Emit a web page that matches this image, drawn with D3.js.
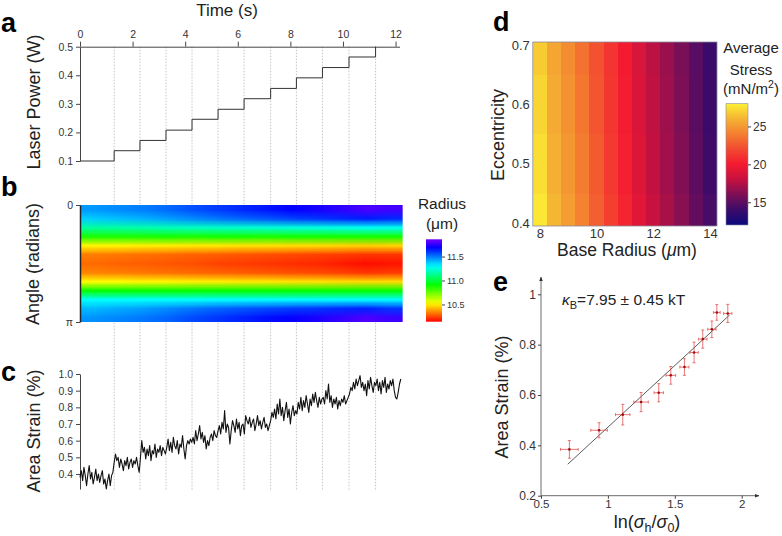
<!DOCTYPE html>
<html>
<head>
<meta charset="utf-8">
<script src="https://cdnjs.cloudflare.com/ajax/libs/d3/7.8.5/d3.min.js"></script>
<style>
body{margin:0;background:#fff}
text{font-family:Helvetica,Arial,"Liberation Sans",sans-serif;fill:#222}
.tick text{fill:#333}
</style>
</head>
<body>
<div id="chart"></div>
<script>
// ---- a: laser power steps
let stepTimes = [0,1.30,2.28,3.27,4.26,5.25,6.24,7.25,8.23,9.22,10.23,11.24];
let laserPower = [0.1,0.136,0.172,0.208,0.246,0.281,0.318,0.354,0.391,0.427,0.464,0.5];
let timeTicks = [0,2,4,6,8,10,12];
let powerTicks = [0.1,0.2,0.3,0.4,0.5];

// ---- b: radius (um) vs angle (rows, 0..pi) and time (cols, 0..12.27 s)
let heatTimeEnd = 12.27;
let radiusGrid = [
  [11.45,11.47,11.49,11.52,11.56,11.59,11.62,11.65,11.68,11.71,11.75,11.79,11.78],
  [11.37,11.39,11.41,11.44,11.47,11.50,11.53,11.55,11.58,11.60,11.62,11.64,11.62],
  [11.15,11.16,11.17,11.19,11.20,11.21,11.22,11.23,11.24,11.25,11.26,11.28,11.27],
  [10.87,10.87,10.87,10.88,10.87,10.88,10.88,10.87,10.88,10.88,10.88,10.88,10.88],
  [10.51,10.51,10.50,10.50,10.49,10.49,10.48,10.48,10.47,10.47,10.46,10.45,10.46],
  [10.33,10.32,10.31,10.30,10.29,10.28,10.27,10.26,10.25,10.24,10.23,10.22,10.22],
  [10.30,10.29,10.28,10.27,10.26,10.24,10.23,10.22,10.21,10.20,10.18,10.16,10.17],
  [10.34,10.33,10.32,10.31,10.30,10.29,10.28,10.27,10.26,10.25,10.24,10.22,10.23],
  [10.52,10.52,10.51,10.51,10.50,10.50,10.49,10.49,10.48,10.48,10.47,10.47,10.47],
  [10.90,10.90,10.90,10.90,10.90,10.90,10.90,10.90,10.90,10.90,10.90,10.90,10.90],
  [11.29,11.29,11.29,11.29,11.29,11.30,11.30,11.30,11.30,11.30,11.30,11.30,11.30],
  [11.40,11.42,11.44,11.47,11.50,11.53,11.55,11.57,11.59,11.60,11.62,11.63,11.60],
  [11.46,11.48,11.50,11.53,11.57,11.60,11.63,11.66,11.69,11.72,11.76,11.80,11.77]
];
let radiusDomain = [10.14, 11.86];
let radiusTicks = [10.5, 11.0, 11.5];

// ---- c: area strain (%) sampled every 0.05 s
let strainDt = 0.05;
let areaStrain = [
  0.38,0.42,0.36,0.44,0.39,0.33,0.40,0.45,0.37,0.41,0.34,0.38,0.43,0.36,0.40,0.35,0.39,0.42,0.34,0.37,0.31,0.36,0.40,0.33,0.39,0.41,
  0.47,0.52,0.48,0.50,0.44,0.49,0.46,0.42,0.48,0.45,0.50,0.43,0.47,0.49,0.44,0.48,0.46,0.50,0.45,0.41,
  0.50,0.60,0.53,0.56,0.49,0.55,0.51,0.57,0.48,0.54,0.52,0.58,0.50,0.55,0.53,0.57,0.51,0.56,0.54,0.52,
  0.56,0.61,0.54,0.59,0.53,0.62,0.57,0.55,0.60,0.52,0.58,0.56,0.63,0.55,0.49,0.57,0.60,0.58,0.61,0.59,
  0.62,0.58,0.66,0.60,0.64,0.69,0.61,0.65,0.59,0.63,0.55,0.60,0.57,0.62,0.64,0.60,0.66,0.63,0.62,
  0.66,0.69,0.64,0.71,0.67,0.78,0.65,0.70,0.68,0.58,0.66,0.72,0.69,0.65,0.73,0.67,0.71,0.63,0.69,0.70,
  0.64,0.75,0.72,0.70,0.74,0.68,0.71,0.73,0.66,0.70,0.75,0.69,0.72,0.67,0.71,0.74,0.68,0.70,0.66,0.69,
  0.72,0.77,0.74,0.79,0.73,0.82,0.76,0.85,0.75,0.80,0.72,0.78,0.83,0.74,0.79,0.70,0.77,0.81,0.75,0.78,
  0.76,0.83,0.79,0.86,0.78,0.84,0.80,0.87,0.82,0.77,0.85,0.81,0.88,0.83,0.89,0.84,0.80,0.86,0.82,0.85,
  0.86,0.82,0.90,0.85,0.94,0.83,0.87,0.80,0.85,0.82,0.86,0.79,0.84,0.81,0.85,0.83,0.87,0.82,0.84,0.86,
  0.88,0.92,0.90,0.95,0.91,0.97,0.93,0.96,0.99,0.92,0.95,0.90,0.94,0.87,0.96,0.91,0.98,0.93,0.89,0.95,
  0.93,0.97,0.90,0.95,0.88,0.96,0.92,0.98,0.89,0.94,0.91,0.96,0.93,0.97,0.90,0.86,0.85,0.89,0.94,0.97
];
let strainTicks = [0.4,0.5,0.6,0.7,0.8,0.9,1.0];

// ---- d: average stress (mN/m^2) vs base radius and eccentricity
let baseRadius = [8,8.5,9,9.5,10,10.5,11,11.5,12,12.5,13,13.5,14];
let eccentricity = [0.4,0.5,0.6,0.7];
let avgStress = [
  [27.7,26.1,25.1,24.1,22.8,21.5,20.4,19.2,18.1,17.2,16.3,15.2,14.3],
  [27.4,25.9,24.9,23.9,22.6,21.3,20.2,19.0,17.9,17.0,16.1,15.0,14.1],
  [27.1,25.7,24.7,23.7,22.4,21.2,20.1,18.9,17.8,16.9,16.0,14.9,14.0],
  [26.8,25.5,24.5,23.5,22.3,21.1,20.0,18.8,17.7,16.8,15.9,14.8,13.9]
];
let stressStops = [12,14,16,18,20,22,24,26,28];
let stressColors = ["#0a0a7c","#3c0b6a","#7c0f55","#c61140","#f41a30","#f24a30","#f47f30","#f5b333","#fcf034"];
let radiusAxisTicks = [8,10,12,14];
let eccTicks = [0.4,0.5,0.6,0.7];
let stressTicks = [15,20,25];

// ---- e: area strain vs ln(sigma_h/sigma_0)
let lnRatio  = [0.712,0.934,1.111,1.248,1.380,1.470,1.572,1.644,1.709,1.777,1.814,1.896];
let strainE  = [0.384,0.460,0.522,0.572,0.609,0.678,0.711,0.769,0.822,0.861,0.928,0.924];
let lnErr    = [0.066,0.062,0.054,0.054,0.035,0.036,0.034,0.031,0.032,0.031,0.025,0.031];
let strainErr= [0.035,0.030,0.041,0.038,0.036,0.035,0.033,0.041,0.036,0.033,0.031,0.036];
let fitX = [0.70,1.91];
let fitY = [0.325,0.918];
let lnTicks = [0.5,1,1.5,2];
let strainETicks = [0.2,0.4,0.6,0.8,1];

let svg = d3.select("#chart").append("svg")
    .attr("width", 782)
    .attr("height", 536);
svg.append("rect").attr("width",782).attr("height",536).attr("fill","#fff");

function panelLetter(s,x,y){
  svg.append("text").attr("x",x).attr("y",y).attr("font-size",27)
    .attr("font-weight","bold").style("fill","#000").text(s);
}
function yTitle(s,x,y,size){
  return svg.append("text").attr("transform","translate("+x+","+y+") rotate(-90)")
    .attr("text-anchor","middle").attr("font-size",size||18).text(s);
}
function styleAxis(g,fs){
  g.selectAll("path,line").attr("stroke","#444");
  g.selectAll("text").attr("font-size",fs);
}

// shared time scale (a, b, c)
let xT = d3.scaleLinear().domain([0,12.15]).range([80,399.5]);

// ===== a
let yP = d3.scaleLinear().domain([0.1,0.5]).range([161,46.7]);

// dotted step markers through a, b, c
svg.append("g").selectAll("line").data(stepTimes.slice(1)).enter().append("line")
  .attr("x1",d=>xT(d)).attr("x2",d=>xT(d))
  .attr("y1",yP(0.5)).attr("y2",491)
  .attr("stroke","#b8b8b8").attr("stroke-width",0.8).attr("stroke-dasharray","1.5,1.5");

let gTop = svg.append("g").attr("transform","translate(0,"+yP(0.5)+")")
  .call(d3.axisTop(xT).tickValues(timeTicks).tickSize(5).tickSizeOuter(0).tickPadding(4));
styleAxis(gTop,10.5);
let gP = svg.append("g").attr("transform","translate(80,0)")
  .call(d3.axisLeft(yP).tickValues(powerTicks).tickSize(4).tickSizeOuter(0).tickFormat(d3.format(".1f")));
styleAxis(gP,10.5);

let powerPts = stepTimes.map((t,i)=>[t,laserPower[i]]);
svg.append("path").datum(powerPts)
  .attr("d", d3.line().x(d=>xT(d[0])).y(d=>yP(d[1])).curve(d3.curveStepAfter))
  .attr("fill","none").attr("stroke","#333").attr("stroke-width",1);

svg.append("text").attr("x",227).attr("y",16).attr("text-anchor","middle")
  .attr("font-size",17).text("Time (s)");
yTitle("Laser Power (W)",40,102);
panelLetter("a",1,32);

// ===== b
let yA = d3.scaleLinear().domain([0,Math.PI]).range([205,322]);
let radiusColor = d3.scaleSequential(t=>d3.hsl(t*268,1,0.5)+"").domain(radiusDomain);

let nRow = radiusGrid.length, nCol = radiusGrid[0].length;
let cvs = document.createElement("canvas");
cvs.width = nCol; cvs.height = nRow;
let ctx = cvs.getContext("2d");
radiusGrid.forEach((row,i)=>row.forEach((v,j)=>{
  ctx.fillStyle = radiusColor(v);
  ctx.fillRect(j,i,1,1);
}));
svg.append("image").attr("href",cvs.toDataURL())
  .attr("x",xT(0)).attr("y",yA(0))
  .attr("width",xT(heatTimeEnd)-xT(0)).attr("height",yA(Math.PI)-yA(0))
  .attr("preserveAspectRatio","none");

let gA = svg.append("g").attr("transform","translate(80,0)")
  .call(d3.axisLeft(yA).tickValues([0,Math.PI]).tickSize(4).tickSizeOuter(0)
    .tickFormat(d=>d===0?"0":"π"));
styleAxis(gA,10.5);
gA.select(".domain").attr("stroke","#222").attr("stroke-width",1.5);
yTitle("Angle (radians)",39,264);
panelLetter("b",1,196);

// colorbar b
let defs = svg.append("defs");
let gradB = defs.append("linearGradient").attr("id","gradB")
  .attr("x1",0).attr("y1",1).attr("x2",0).attr("y2",0);
d3.range(0,1.0001,0.05).forEach(f=>{
  gradB.append("stop").attr("offset",f)
    .attr("stop-color",radiusColor(radiusDomain[0]+f*(radiusDomain[1]-radiusDomain[0])));
});
let cbB = d3.scaleLinear().domain(radiusDomain).range([321.7,239.3]);
svg.append("rect").attr("x",426).attr("y",239.3).attr("width",16).attr("height",82.4)
  .attr("fill","url(#gradB)");
let gCbB = svg.append("g").attr("transform","translate(442,0)")
  .call(d3.axisRight(cbB).tickValues(radiusTicks).tickSize(3).tickPadding(2).tickFormat(d3.format(".1f")));
styleAxis(gCbB,9);
gCbB.select(".domain").remove();
svg.append("text").attr("x",442).attr("y",209).attr("text-anchor","middle").attr("font-size",15.5).text("Radius");
svg.append("text").attr("x",442).attr("y",229).attr("text-anchor","middle").attr("font-size",15.5).text("(μm)");

// ===== c
let yS = d3.scaleLinear().domain([0.31,1.0]).range([489,374]);
let gS = svg.append("g").attr("transform","translate(80,0)")
  .call(d3.axisLeft(yS).tickValues(strainTicks).tickSize(4).tickSizeOuter(0).tickFormat(d3.format(".1f")));
styleAxis(gS,10.5);
svg.append("path").datum(areaStrain)
  .attr("d", d3.line().x((d,i)=>xT(i*strainDt)).y(d=>yS(d)))
  .attr("fill","none").attr("stroke","#111").attr("stroke-width",1.1).attr("stroke-linejoin","round");
yTitle("Area Strain (%)",40,431);
panelLetter("c",1,381);

// ===== d
let xR = d3.scaleLinear().domain([7.75,14.25]).range([532.8,717]);
let yE = d3.scaleLinear().domain([0.395,0.705]).range([226,42]);
let stressColor = d3.scaleLinear().domain(stressStops).range(stressColors).interpolate(d3.interpolateRgb);
let halfW = (baseRadius[1]-baseRadius[0])/2;
let eccEdges = eccentricity.map((e,i)=>{
  let lo = i===0 ? yE.domain()[0] : (e+eccentricity[i-1])/2;
  let hi = i===eccentricity.length-1 ? yE.domain()[1] : (e+eccentricity[i+1])/2;
  return [lo,hi];
});
let cells = [];
avgStress.forEach((row,i)=>row.forEach((v,j)=>cells.push({r:baseRadius[j],e:eccEdges[i],v:v})));
svg.append("g").selectAll("rect").data(cells).enter().append("rect")
  .attr("x",d=>xR(d.r-halfW)).attr("width",d=>xR(d.r+halfW)-xR(d.r-halfW)+0.3)
  .attr("y",d=>yE(d.e[1])).attr("height",d=>yE(d.e[0])-yE(d.e[1])+0.3)
  .attr("fill",d=>stressColor(d.v)).attr("shape-rendering","crispEdges");
svg.append("rect").attr("x",xR(7.75)).attr("y",yE(0.705))
  .attr("width",xR(14.25)-xR(7.75)).attr("height",yE(0.395)-yE(0.705))
  .attr("fill","none").attr("stroke","#8a8a9a").attr("stroke-width",0.8);

let gRx = svg.append("g").attr("transform","translate(0,226)")
  .call(d3.axisBottom(xR).tickValues(radiusAxisTicks).tickSize(0).tickPadding(3).tickFormat(d3.format("d")));
styleAxis(gRx,13);
gRx.select(".domain").remove();
let gEy = svg.append("g").attr("transform","translate(532.8,0)")
  .call(d3.axisLeft(yE).tickValues(eccTicks).tickSize(0).tickPadding(3).tickFormat(d3.format(".1f")));
styleAxis(gEy,13);
gEy.select(".domain").remove();

let tR = svg.append("text").attr("x",627).attr("y",256).attr("text-anchor","middle").attr("font-size",17.5);
tR.append("tspan").text("Base Radius (");
tR.append("tspan").attr("font-style","italic").text("μ");
tR.append("tspan").text("m)");
yTitle("Eccentricity",504,135);
panelLetter("d",493,31);

// colorbar d
let gradD = defs.append("linearGradient").attr("id","gradD")
  .attr("x1",0).attr("y1",1).attr("x2",0).attr("y2",0);
stressStops.forEach((s,i)=>{
  gradD.append("stop").attr("offset",(s-stressStops[0])/(stressStops[stressStops.length-1]-stressStops[0]))
    .attr("stop-color",stressColors[i]);
});
let cbD = d3.scaleLinear().domain([12,28]).range([225,103.7]);
svg.append("rect").attr("x",726).attr("y",103.7).attr("width",22).attr("height",121.3)
  .attr("fill","url(#gradD)").attr("stroke","#8a8a9a").attr("stroke-width",0.6);
let gCbD = svg.append("g").attr("transform","translate(748,0)")
  .call(d3.axisRight(cbD).tickValues(stressTicks).tickSize(3).tickPadding(2));
styleAxis(gCbD,12);
gCbD.select(".domain").remove();
svg.append("text").attr("x",751).attr("y",53).attr("text-anchor","middle").attr("font-size",15).text("Average");
svg.append("text").attr("x",751).attr("y",75).attr("text-anchor","middle").attr("font-size",15).text("Stress");
let tU = svg.append("text").attr("x",751).attr("y",94).attr("text-anchor","middle").attr("font-size",15);
tU.append("tspan").text("(mN/m");
tU.append("tspan").attr("dy",-6).attr("font-size",10.5).text("2");
tU.append("tspan").attr("dy",6).text(")");

// ===== e
let xL = d3.scaleLinear().domain([0.5,2]).range([541,741.7]);
let yL = d3.scaleLinear().domain([0.2,1]).range([495.7,294.3]);
defs.append("marker").attr("id","arrow").attr("viewBox","0 0 10 10")
  .attr("refX",9).attr("refY",5).attr("markerWidth",6).attr("markerHeight",6)
  .attr("orient","auto").append("path").attr("d","M0,1L10,5L0,9z").attr("fill","#333");

let gLx = svg.append("g").attr("transform","translate(0,495.7)")
  .call(d3.axisBottom(xL).tickValues(lnTicks).tickSize(3).tickPadding(1).tickFormat(d=>d));
styleAxis(gLx,11.5);
gLx.select(".domain").remove();
let gLy = svg.append("g").attr("transform","translate(541,0)")
  .call(d3.axisLeft(yL).tickValues(strainETicks).tickSize(3).tickPadding(2).tickFormat(d=>d));
styleAxis(gLy,12);
gLy.select(".domain").remove();
svg.append("line").attr("x1",541).attr("x2",759).attr("y1",495.7).attr("y2",495.7)
  .attr("stroke","#444").attr("stroke-width",0.8).attr("marker-end","url(#arrow)");
svg.append("line").attr("x1",541).attr("x2",541).attr("y1",495.7).attr("y2",277)
  .attr("stroke","#444").attr("stroke-width",0.8).attr("marker-end","url(#arrow)");

svg.append("line").attr("x1",xL(fitX[0])).attr("y1",yL(fitY[0]))
  .attr("x2",xL(fitX[1])).attr("y2",yL(fitY[1]))
  .attr("stroke","#333").attr("stroke-width",0.8);

let pts = lnRatio.map((x,i)=>({x:x,y:strainE[i],ex:lnErr[i],ey:strainErr[i]}));
let gPts = svg.append("g").attr("stroke","#e24a4a").attr("stroke-opacity",0.75).attr("stroke-width",1);
gPts.selectAll(".ex").data(pts).enter().append("line")
  .attr("x1",d=>xL(d.x-d.ex)).attr("x2",d=>xL(d.x+d.ex)).attr("y1",d=>yL(d.y)).attr("y2",d=>yL(d.y));
gPts.selectAll(".ey").data(pts).enter().append("line")
  .attr("x1",d=>xL(d.x)).attr("x2",d=>xL(d.x)).attr("y1",d=>yL(d.y-d.ey)).attr("y2",d=>yL(d.y+d.ey));
gPts.selectAll(".cy").data(pts.flatMap(d=>[[d.x,d.y-d.ey],[d.x,d.y+d.ey]])).enter().append("line")
  .attr("x1",d=>xL(d[0])-1.5).attr("x2",d=>xL(d[0])+1.5).attr("y1",d=>yL(d[1])).attr("y2",d=>yL(d[1]));
gPts.selectAll(".cx").data(pts.flatMap(d=>[[d.x-d.ex,d.y],[d.x+d.ex,d.y]])).enter().append("line")
  .attr("x1",d=>xL(d[0])).attr("x2",d=>xL(d[0])).attr("y1",d=>yL(d[1])-1.5).attr("y2",d=>yL(d[1])+1.5);
svg.append("g").selectAll("circle").data(pts).enter().append("circle")
  .attr("cx",d=>xL(d.x)).attr("cy",d=>yL(d.y)).attr("r",1.3).attr("fill","#a01010");

let tK = svg.append("text").attr("x",562).attr("y",305).attr("font-size",15.5);
tK.append("tspan").attr("font-style","italic").text("κ");
tK.append("tspan").attr("dy",4).attr("font-size",11).text("B");
tK.append("tspan").attr("dy",-4).text("=7.95 ± 0.45 kT");

let tX = svg.append("text").attr("x",647).attr("y",528).attr("text-anchor","middle").attr("font-size",18);
tX.append("tspan").text("ln(");
tX.append("tspan").attr("font-style","italic").text("σ");
tX.append("tspan").attr("dy",4).attr("font-size",12.5).text("h");
tX.append("tspan").attr("dy",-4).text("/");
tX.append("tspan").attr("font-style","italic").text("σ");
tX.append("tspan").attr("dy",4).attr("font-size",12.5).text("0");
tX.append("tspan").attr("dy",-4).text(")");
yTitle("Area Strain (%)",508,397);
panelLetter("e",493,291);
</script>
</body>
</html>
